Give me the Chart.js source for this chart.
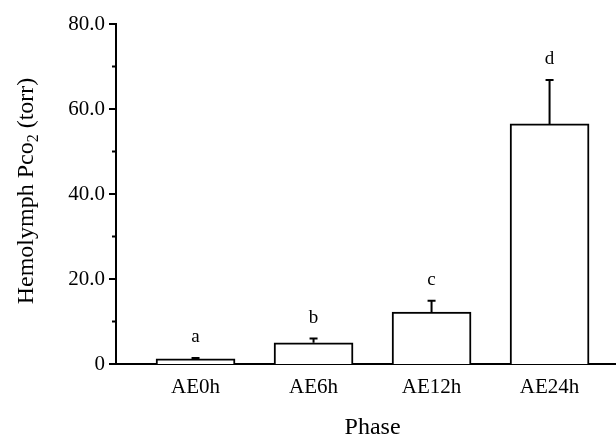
<!DOCTYPE html>
<html>
<head>
<meta charset="utf-8">
<script src="https://cdn.jsdelivr.net/npm/chart.js@4/dist/chart.umd.min.js"></script>
<style>
    html, body { margin: 0; padding: 0; background: #ffffff; }
    canvas { display: block; }
</style>
</head>
<body>
<canvas id="phaseChart" width="616" height="435"></canvas>
<script>
const categories = ["AE0h", "AE6h", "AE12h", "AE24h"];
const means = [1.2, 5.0, 12.2, 56.5];
const errors = [0.2, 1.0, 2.7, 10.3];
const letters = ["a", "b", "c", "d"];
const yMajorTicks = [0, 20, 40, 60, 80];
const yTickLabels = ["0", "20.0", "40.0", "60.0", "80.0"];

const SERIF = "'Liberation Serif', 'Times New Roman', serif";

// error bars, letters, minor/major y ticks and axis titles
const extrasPlugin = {
    id: "extras",
    afterDatasetsDraw(chart) {
        const { ctx, chartArea } = chart;
        const x = chart.scales.x;
        const y = chart.scales.y;

        ctx.save();
        ctx.strokeStyle = "#000";
        ctx.lineWidth = 2;
        means.forEach((mean, i) => {
            const px = x.getPixelForValue(i);
            const base = y.getPixelForValue(mean);
            const top = y.getPixelForValue(mean + errors[i]);
            ctx.beginPath();
            ctx.moveTo(px, base);
            ctx.lineTo(px, top);
            ctx.moveTo(px - 4, top);
            ctx.lineTo(px + 4, top);
            ctx.stroke();

            ctx.fillStyle = "#000";
            ctx.font = `19px ${SERIF}`;
            ctx.textAlign = "center";
            ctx.textBaseline = "alphabetic";
            ctx.fillText(letters[i], px, top - 16);
        });

        // y tick marks, long for labelled ones
        y.ticks.forEach((tick) => {
            const py = y.getPixelForValue(tick.value);
            const len = yMajorTicks.includes(tick.value) ? 7 : 4;
            ctx.beginPath();
            ctx.moveTo(chartArea.left, py);
            ctx.lineTo(chartArea.left - len, py);
            ctx.stroke();
        });

        // x title
        ctx.fillStyle = "#000";
        ctx.font = `24px ${SERIF}`;
        ctx.textAlign = "center";
        ctx.textBaseline = "alphabetic";
        ctx.fillText("Phase", x.getPixelForValue(1.5), 434);

        // y title with subscript
        const main = "Hemolymph Pco";
        const sub = "2";
        const tail = " (torr)";
        ctx.font = `24px ${SERIF}`;
        const w1 = ctx.measureText(main).width;
        const w3 = ctx.measureText(tail).width;
        ctx.font = `16px ${SERIF}`;
        const w2 = ctx.measureText(sub).width;
        const total = w1 + w2 + w3;
        ctx.translate(33, (chartArea.top + chartArea.bottom) / 2 - 3);
        ctx.rotate(-Math.PI / 2);
        ctx.textAlign = "left";
        let pos = -total / 2;
        ctx.font = `24px ${SERIF}`;
        ctx.fillText(main, pos, 0);
        pos += w1;
        ctx.font = `16px ${SERIF}`;
        ctx.fillText(sub, pos, 5);
        pos += w2;
        ctx.font = `24px ${SERIF}`;
        ctx.fillText(tail, pos, 0);
        ctx.restore();
    },
};

new Chart(document.getElementById("phaseChart"), {
    type: "bar",
    data: {
        datasets: [{
            data: means.map((v, i) => ({ x: i, y: v })),
            backgroundColor: "#ffffff",
            borderColor: "#000000",
            borderWidth: 2,
            barThickness: 79,
        }],
    },
    options: {
        responsive: false,
        animation: false,
        layout: { padding: { top: 24, right: 0, left: 0, bottom: 0 } },
        plugins: {
            legend: { display: false },
            tooltip: { enabled: false },
        },
        scales: {
            x: {
                type: "linear",
                offset: false,
                min: -0.674,
                max: 3.563,
                afterBuildTicks(scale) {
                    scale.ticks = categories.map((_, i) => ({ value: i }));
                },
                afterFit(scale) {
                    scale.height = 71;
                },
                grid: { display: false, drawTicks: false, offset: false },
                border: { display: true, color: "#000", width: 2 },
                ticks: {
                    color: "#000",
                    font: { family: SERIF, size: 21 },
                    padding: 11,
                    maxRotation: 0,
                    callback: (value) => categories[value] ?? "",
                },
            },
            y: {
                min: 0,
                max: 80,
                afterFit(scale) {
                    scale.width = 116;
                },
                grid: { display: false, drawTicks: false },
                border: { display: true, color: "#000", width: 2 },
                ticks: {
                    stepSize: 10,
                    color: "#000",
                    font: { family: SERIF, size: 21 },
                    padding: 11,
                    callback: (value) => {
                        const idx = yMajorTicks.indexOf(value);
                        return idx >= 0 ? yTickLabels[idx] : "";
                    },
                },
            },
        },
    },
    plugins: [extrasPlugin],
});
</script>
</body>
</html>
